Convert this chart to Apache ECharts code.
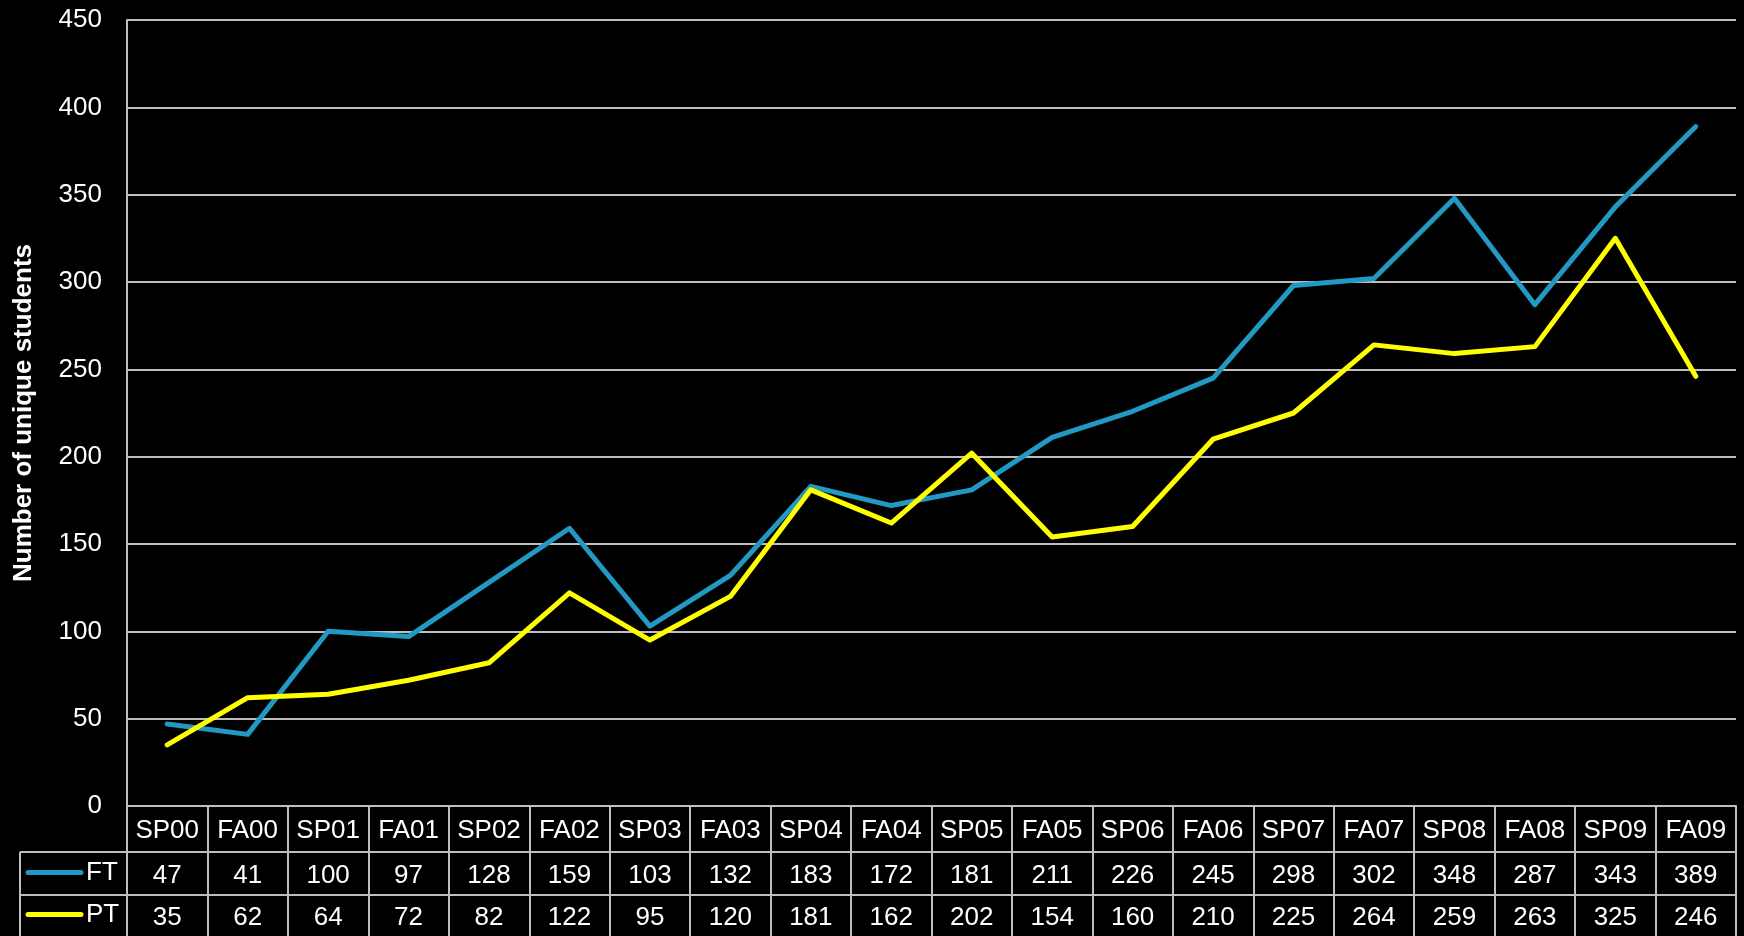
<!DOCTYPE html>
<html>
<head>
<meta charset="utf-8">
<script src="https://cdn.jsdelivr.net/npm/echarts@6/dist/echarts.min.js"></script>
<style>
  html, body { margin: 0; padding: 0; background: #000; }
  #chart { width: 1744px; height: 936px; }
</style>
</head>
<body>
<div id="chart"></div>
<script>
// Semesters and unique student counts (full-time / part-time)
const terms = ['SP00','FA00','SP01','FA01','SP02','FA02','SP03','FA03','SP04','FA04',
               'SP05','FA05','SP06','FA06','SP07','FA07','SP08','FA08','SP09','FA09'];
const ftCounts = [47, 41, 100, 97, 128, 159, 103, 132, 183, 172, 181, 211, 226, 245, 298, 302, 348, 287, 343, 389];
const ptCounts = [35, 62, 64, 72, 82, 122, 95, 120, 181, 162, 202, 154, 160, 210, 225, 264, 259, 263, 325, 246];
const seriesNames = ['FT', 'PT'];
const yTicks = { min: 0, max: 450, interval: 50 };

const FT_COLOR = '#2299C2';
const PT_COLOR = '#FFFF00';
const GRID_COLOR = '#BEBEBE';
const FONT = 'Liberation Sans, Arial, sans-serif';
const FS = 26;

const chart = echarts.init(document.getElementById('chart'), null, { renderer: 'canvas' });

const GRID = { left: 127, right: 8, top: 20, bottom: 130 };
const TABLE_LEFT = 20;
const ROW_H = [46, 43, 41];

chart.setOption({
  backgroundColor: '#000',
  animation: false,
  grid: {
    left: GRID.left, right: GRID.right, top: GRID.top, bottom: GRID.bottom,
    containLabel: false, outerBoundsMode: 'none'
  },
  xAxis: {
    type: 'category',
    data: terms,
    boundaryGap: true,
    axisLine: { show: true, lineStyle: { color: GRID_COLOR, width: 2 } },
    axisTick: { show: true, inside: false, length: 130, lineStyle: { color: GRID_COLOR, width: 2 } },
    axisLabel: {
      interval: 0,
      margin: 2,
      color: '#fff',
      fontFamily: FONT,
      formatter: (v, i) => `{h|${v}}\n{r|${ftCounts[i]}}\n{p|${ptCounts[i]}}`,
      rich: {
        h: { fontSize: FS, lineHeight: ROW_H[0], color: '#fff', fontFamily: FONT },
        r: { fontSize: FS, lineHeight: ROW_H[1], color: '#fff', fontFamily: FONT },
        p: { fontSize: FS, lineHeight: ROW_H[2], color: '#fff', fontFamily: FONT }
      }
    },
    splitLine: { show: false }
  },
  yAxis: {
    type: 'value',
    min: yTicks.min,
    max: yTicks.max,
    interval: yTicks.interval,
    name: 'Number of unique students',
    nameLocation: 'middle',
    nameGap: 90,
    nameRotate: 90,
    nameTextStyle: { color: '#fff', fontSize: 26, fontWeight: 'bold', fontFamily: FONT },
    axisLine: { show: true, lineStyle: { color: GRID_COLOR, width: 2 } },
    axisTick: { show: false },
    axisLabel: { color: '#fff', fontSize: FS, fontFamily: FONT, margin: 25 },
    splitLine: { show: true, lineStyle: { color: GRID_COLOR, width: 2 } }
  },
  series: [
    {
      name: seriesNames[0], type: 'line', data: ftCounts, showSymbol: false, symbol: 'none',
      color: FT_COLOR, lineStyle: { color: FT_COLOR, width: 5, cap: 'round', join: 'round' }, z: 3
    },
    {
      name: seriesNames[1], type: 'line', data: ptCounts, showSymbol: false, symbol: 'none',
      color: PT_COLOR, lineStyle: { color: PT_COLOR, width: 5, cap: 'round', join: 'round' }, z: 4
    }
  ]
});

// Data-table borders and the legend keys in the left column
function drawTable() {
  const w = chart.getWidth();
  const h = chart.getHeight();
  const axisY = h - GRID.bottom;
  const row1 = axisY + ROW_H[0];
  const row2 = row1 + ROW_H[1];
  const right = w - GRID.right;
  const border = { stroke: GRID_COLOR, lineWidth: 2 };
  const rows = [[row1, row2, FT_COLOR], [row2, h, PT_COLOR]];
  const keys = [];
  rows.forEach(([top, bottom, color], k) => {
    const cy = (top + bottom) / 2 - 1;
    keys.push({ type: 'line', silent: true,
      shape: { x1: TABLE_LEFT + 8, y1: cy, x2: TABLE_LEFT + 61, y2: cy },
      style: { stroke: color, lineWidth: 5, lineCap: 'round' } });
    keys.push({ type: 'text', silent: true, x: TABLE_LEFT + 66, y: cy,
      style: { text: seriesNames[k], fill: '#fff', font: `${FS}px ${FONT}`, verticalAlign: 'middle' } });
  });
  chart.setOption({
    graphic: [
      { type: 'line', silent: true, shape: { x1: TABLE_LEFT, y1: row1, x2: right, y2: row1 }, style: border },
      { type: 'line', silent: true, shape: { x1: TABLE_LEFT, y1: row2, x2: right, y2: row2 }, style: border },
      { type: 'line', silent: true, shape: { x1: TABLE_LEFT, y1: row1, x2: TABLE_LEFT, y2: h }, style: border },
      ...keys
    ]
  });
}
drawTable();
</script>
</body>
</html>
